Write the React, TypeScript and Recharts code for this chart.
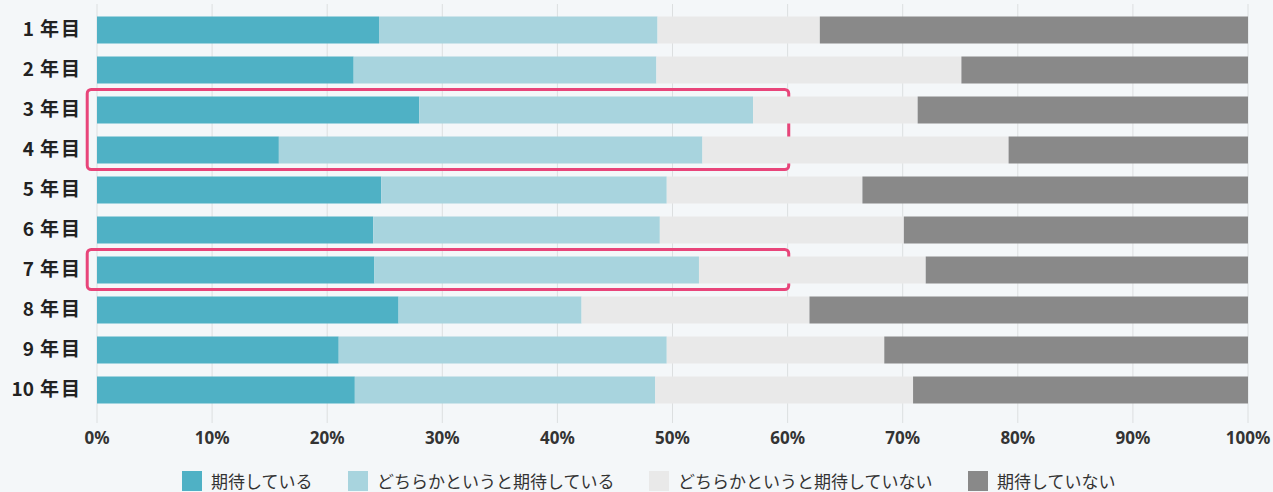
import React from 'react';
import {
  BarChart,
  Bar,
  XAxis,
  YAxis,
  CartesianGrid,
  ReferenceArea,
  Legend,
} from 'recharts';

const categories = ['1年目', '2年目', '3年目', '4年目', '5年目', '6年目', '7年目', '8年目', '9年目', '10年目'];
const seriesNames = ['期待している', 'どちらかというと期待している', 'どちらかというと期待していない', '期待していない'];
const seriesColors = ['#4fb1c5', '#a8d4de', '#e9e9e9', '#898989'];

const expecting = [24.5, 22.3, 28.0, 15.8, 24.7, 24.0, 24.1, 26.2, 21.0, 22.4];
const ratherExpecting = [24.2, 26.3, 29.0, 36.8, 24.8, 24.9, 28.2, 15.9, 28.5, 26.1];
const ratherNotExpecting = [14.1, 26.5, 14.3, 26.6, 17.0, 21.2, 19.7, 19.8, 18.9, 22.4];
const notExpecting = [37.2, 24.9, 28.7, 20.8, 33.5, 29.9, 28.0, 38.1, 31.6, 29.1];

const xTicks = [0, 10, 20, 30, 40, 50, 60, 70, 80, 90, 100];

const highlights = [
  { from: '3年目', to: '4年目', upTo: 60.1 },
  { from: '7年目', to: '7年目', upTo: 60.1 },
];

const seriesValues = [expecting, ratherExpecting, ratherNotExpecting, notExpecting];
const keys = ['s0', 's1', 's2', 's3'];

const data = categories.map((c, i) => {
  const row: Record<string, string | number> = { name: c };
  keys.forEach((k, j) => {
    row[k] = seriesValues[j][i];
  });
  return row;
});

const JP = '"Noto Sans CJK JP", "Noto Sans", sans-serif';

const legendLefts = [182, 348, 649, 968];

const LegendContent = () => (
  <div style={{ position: 'relative', height: 0, width: 1273 }}>
    {seriesNames.map((n, i) => (
      <div
        key={n}
        style={{
          position: 'absolute',
          left: legendLefts[i],
          top: 0,
          display: 'flex',
          alignItems: 'center',
          whiteSpace: 'nowrap',
          fontFamily: JP,
          fontSize: 17,
          color: '#333',
          lineHeight: '20px',
        }}
      >
        <span style={{ display: 'inline-block', width: 20, height: 20, background: seriesColors[i], marginRight: 9 }} />
        <span>{n}</span>
      </div>
    ))}
  </div>
);

const YTick = (props: any) => {
  const { x, y, payload } = props;
  const v = String(payload.value);
  const m = v.match(/^(\d+)(.*)$/);
  const num = m ? m[1] : '';
  const rest = m ? m[2] : v;
  return (
    <text
      x={x}
      y={y}
      dy="0.36em"
      textAnchor="end"
      fontSize={19}
      fontWeight={700}
      fill="#222"
      fontFamily={JP}
    >
      <tspan>{num}</tspan>
      <tspan dx={6} letterSpacing={2}>{rest}</tspan>
    </text>
  );
};

export default function App() {
  return (
    <div
      style={{
        position: 'absolute',
        left: 0,
        top: 0,
        width: 1273,
        height: 492,
        background: '#f4f7f9',
        overflow: 'hidden',
      }}
    >
      <BarChart
        width={1273}
        height={492}
        data={data}
        layout="vertical"
        margin={{ top: 4, right: 25, left: 0, bottom: 39 }}
        barSize={27}
      >
        <CartesianGrid horizontal={false} vertical stroke="#dcdfe0" strokeWidth={1} />
        <XAxis
          type="number"
          domain={[0, 100]}
          ticks={xTicks}
          tickFormatter={(v: number) => `${v}%`}
          axisLine={false}
          tickLine={false}
          tickSize={0}
          tickMargin={9}
          height={30}
          interval={0}
          tick={{ fontSize: 17, fontWeight: 700, fill: '#333', fontFamily: '"Noto Sans", sans-serif' }}
        />
        <YAxis
          type="category"
          dataKey="name"
          width={97}
          axisLine={false}
          tickLine={false}
          tickSize={0}
          tickMargin={15}
          padding={{ top: 5.5, bottom: 13.5 }}
          interval={0}
          tick={<YTick />}
        />
        {keys.map((k, i) => (
          <Bar
            key={k}
            dataKey={k}
            name={seriesNames[i]}
            stackId="a"
            fill={seriesColors[i]}
            isAnimationActive={false}
          />
        ))}
        {highlights.map((h, i) => (
          <ReferenceArea
            key={i}
            y1={h.from}
            y2={h.to}
            x1={-0.85}
            x2={h.upTo}
            fill="none"
            fillOpacity={0}
            stroke="#e8457a"
            strokeWidth={3}
            radius={4}
            ifOverflow="visible"
          />
        ))}
        <Legend
          content={<LegendContent />}
          wrapperStyle={{ left: 0, top: 471, width: 1273, height: 0 }}
        />
      </BarChart>
    </div>
  );
}
